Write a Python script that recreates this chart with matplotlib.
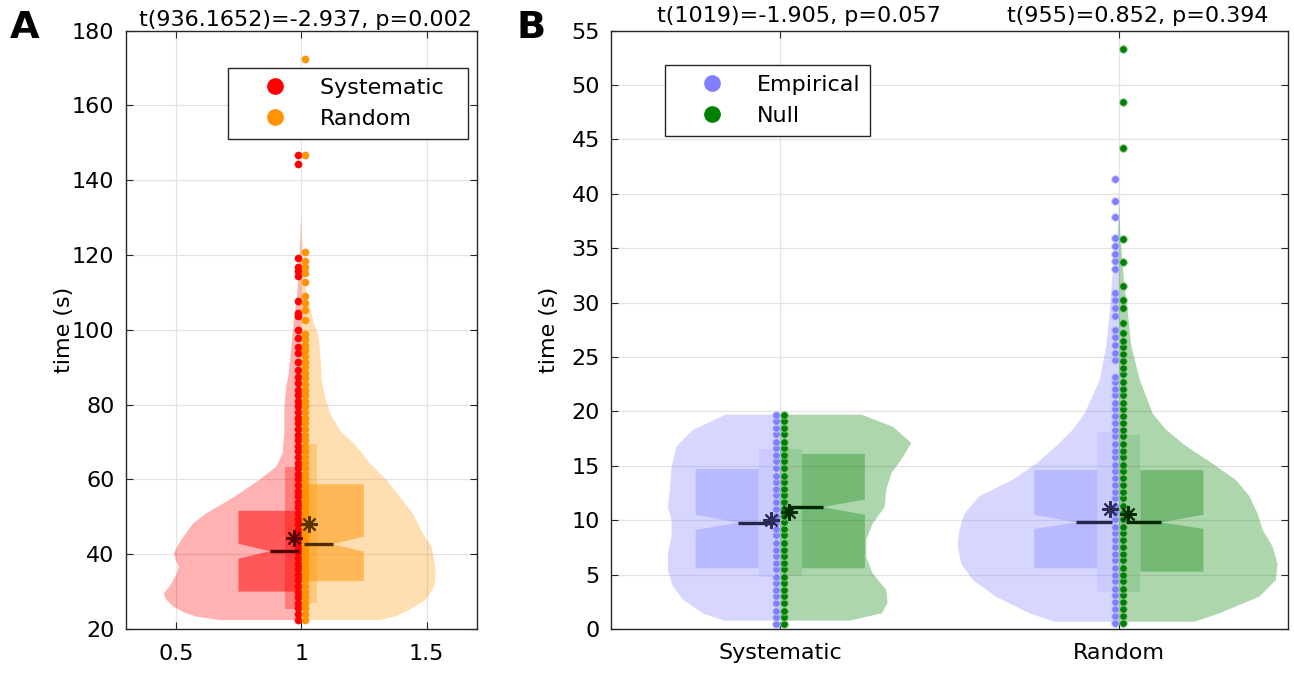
import numpy as np
import matplotlib
matplotlib.use("Agg")
import matplotlib.pyplot as plt
from matplotlib.lines import Line2D
from matplotlib.patches import Polygon

plt.rcParams['font.family'] = ['DejaVu Sans']
FS = 16

# ---------------- panel A : Systematic vs Random ----------------
sysA_dots = [22.5, 24.0, 25.5, 27.0, 28.5, 30.0, 31.5, 33.0, 34.5, 36.0, 37.5, 39.0, 40.5,
             42.0, 43.5, 45.0, 46.5, 48.0, 49.5, 51.0, 52.5, 54.0, 55.5, 57.0, 58.5, 60.0,
             61.5, 63.0, 64.5, 66.0, 67.5, 69.0, 70.5, 72.0, 73.5, 75.0, 76.5, 78.0, 79.5,
             81.0, 82.5, 84.0, 85.7, 87.5, 89.3, 91.5, 93.8, 95.5, 97.8, 100.0, 103.6, 104.6,
             107.6, 114.3, 115.6, 116.9, 119.2, 144.4, 146.6]
randA_dots = [22.5, 24.0, 25.5, 27.0, 28.5, 30.0, 31.5, 33.0, 34.5, 36.0, 37.5, 39.0, 40.5,
              42.0, 43.5, 45.0, 46.5, 48.0, 49.5, 51.0, 52.5, 54.0, 55.5, 57.0, 58.5, 60.0,
              61.5, 63.0, 64.5, 66.0, 67.5, 69.0, 70.5, 72.0, 73.5, 75.0, 76.5, 78.0, 79.5,
              81.0, 82.5, 84.0, 85.5, 87.0, 88.5, 90.0, 91.5, 93.0, 94.5, 96.0, 97.5, 99.0,
              102.7, 105.4, 107.1, 108.9, 112.9, 115.2, 116.9, 118.3, 120.7, 146.6, 172.5]

# violin outline: y level and half width (x units)
sysA_vy = [22.4, 23.3, 24.5, 26.0, 28.0, 29.5, 31.0, 33.0, 35.0, 36.7, 38.5, 40.3, 42.5, 44.7,
           46.5, 48.3, 51.0, 53.6, 56.3, 59.9, 63.4, 67.0, 73.2, 79.5, 84.8, 88.0, 95.0, 102.0,
           110.0, 120.0, 130.0]
sysA_vw = [0.325, 0.417, 0.47, 0.51, 0.54, 0.548, 0.53, 0.51, 0.495, 0.489, 0.5, 0.508, 0.49,
           0.469, 0.45, 0.43, 0.377, 0.31, 0.245, 0.166, 0.1, 0.074, 0.067, 0.067, 0.06, 0.05,
           0.04, 0.03, 0.015, 0.006, 0.0]
randA_vy = [22.4, 23.5, 25.1, 27.8, 31.3, 34.9, 38.5, 42.0, 45.6, 51.0, 55.4, 59.9, 64.3, 68.8,
            73.2, 77.7, 82.2, 86.6, 92.0, 98.0, 102.0, 107.0, 112.0, 120.0, 130.0]
randA_vw = [0.313, 0.38, 0.43, 0.497, 0.53, 0.537, 0.53, 0.52, 0.485, 0.445, 0.393, 0.34, 0.274,
            0.221, 0.154, 0.115, 0.095, 0.082, 0.078, 0.07, 0.05, 0.03, 0.015, 0.006, 0.0]

# q1, median, q3 / notch low, high / thin box low, high / mean
sysA_q = [30.0, 40.8, 51.6]
sysA_notch = [38.8, 42.8]
sysA_rng = [25.4, 63.2]
sysA_mean = 44.4
randA_q = [32.8, 42.7, 58.7]
randA_notch = [40.7, 44.7]
randA_rng = [26.9, 69.5]
randA_mean = 48.1

titleA = 't(936.1652)=-2.937, p=0.002'

# ---------------- panel B : Empirical vs Null ----------------
empS_dots = [0.5, 1.1, 1.7, 2.4, 3.0, 3.6, 4.2, 4.8, 5.5, 6.1, 6.7, 7.3, 7.9, 8.6, 9.2, 9.8,
             10.4, 11.0, 11.7, 12.3, 12.9, 13.5, 14.1, 14.8, 15.4, 16.0, 16.6, 17.2, 17.9,
             18.5, 19.1, 19.7]
nulS_dots = [0.5, 1.1, 1.7, 2.4, 3.0, 3.6, 4.2, 4.8, 5.5, 6.1, 6.7, 7.3, 7.9, 8.6, 9.2, 9.8,
             10.4, 11.0, 11.7, 12.3, 12.9, 13.5, 14.1, 14.8, 15.4, 16.0, 16.6, 17.2, 17.9,
             18.5, 19.1, 19.7]
empR_dots = [0.6, 1.2, 1.8, 2.5, 3.1, 3.7, 4.4, 5.0, 5.6, 6.3, 6.9, 7.5, 8.2, 8.8, 9.4, 10.1,
             10.7, 11.3, 12.0, 12.6, 13.2, 13.9, 14.5, 15.1, 15.8, 16.4, 17.0, 17.7, 18.3,
             18.9, 19.6, 20.2, 20.8, 21.5, 22.1, 22.7, 23.2, 24.7, 25.4, 26.1, 26.8, 27.5,
             28.8, 29.5, 30.2, 30.9, 33.1, 33.8, 34.5, 35.2, 35.9, 37.9, 39.3, 41.4]
nulR_dots = [0.6, 1.2, 1.8, 2.5, 3.1, 3.7, 4.4, 5.0, 5.6, 6.3, 6.9, 7.5, 8.2, 8.8, 9.4, 10.1,
             10.7, 11.3, 12.0, 12.6, 13.2, 13.9, 14.5, 15.1, 15.8, 16.4, 17.0, 17.7, 18.3,
             18.9, 19.6, 20.2, 20.8, 21.5, 22.1, 22.7, 23.4, 24.0, 24.6, 25.3, 25.9, 26.5,
             27.2, 28.1, 29.5, 30.2, 31.5, 33.7, 35.8, 44.2, 48.4, 53.3]

empS_vy = [0.77, 1.44, 2.7, 3.9, 5.4, 7.0, 8.5, 10.0, 11.2, 12.8, 14.9, 16.8, 18.3, 19.7]
empS_vw = [0.164, 0.229, 0.287, 0.317, 0.332, 0.332, 0.321, 0.321, 0.332, 0.326, 0.321,
           0.306, 0.258, 0.162]
nulS_vy = [0.77, 1.44, 2.4, 3.6, 5.1, 6.6, 8.2, 9.7, 11.2, 12.8, 14.3, 15.8, 17.1, 18.6, 19.7]
nulS_vw = [0.205, 0.3, 0.317, 0.313, 0.273, 0.254, 0.254, 0.273, 0.308, 0.313, 0.328, 0.362,
           0.387, 0.332, 0.24]
empR_vy = [0.67, 1.44, 2.97, 4.5, 6.0, 7.6, 9.1, 10.6, 12.2, 13.7, 15.2, 16.8, 18.3, 19.8,
           22.9, 26.0, 29.0, 32.1, 35.0, 38.0]
empR_vw = [0.19, 0.264, 0.363, 0.431, 0.465, 0.476, 0.471, 0.456, 0.412, 0.314, 0.244, 0.185,
           0.136, 0.101, 0.056, 0.037, 0.027, 0.02, 0.008, 0.0]
nulR_vy = [0.67, 1.44, 2.97, 4.5, 6.0, 7.6, 9.1, 10.6, 12.2, 13.7, 15.2, 16.8, 18.3, 19.8,
           22.9, 26.0, 29.0, 32.1, 36.0, 40.0]
nulR_vw = [0.224, 0.297, 0.415, 0.464, 0.469, 0.454, 0.425, 0.41, 0.386, 0.346, 0.277, 0.199,
           0.14, 0.1, 0.062, 0.037, 0.027, 0.015, 0.005, 0.0]

empS_q = [5.58, 9.78, 14.7]
empS_notch = [9.1, 10.5]
empS_rng = [4.8, 16.5]
empS_mean = 10.0
nulS_q = [5.58, 11.2, 16.1]
nulS_notch = [10.5, 11.9]
nulS_rng = [4.9, 16.5]
nulS_mean = 10.8
empR_q = [5.58, 9.8, 14.6]
empR_notch = [9.2, 10.5]
empR_rng = [3.4, 18.1]
empR_mean = 11.0
nulR_q = [5.27, 9.8, 14.6]
nulR_notch = [9.2, 10.5]
nulR_rng = [3.4, 17.8]
nulR_mean = 10.55

conditions = ['Systematic', 'Random']
titlesB = ['t(1019)=-1.905, p=0.057', 't(955)=0.852, p=0.394']

RED = (1.0, 0.0, 0.0)
ORANGE = (1.0, 0.58, 0.0)
BLUE = (0.5, 0.5, 1.0)
GREEN = (0.0, 0.5, 0.0)

styleA = dict(va=0.3, nw=0.063, na=0.3, bi=0.0, bo=0.25, tip=0.125, ba=0.5,
              dx=0.014, ms=5.2, m0=0.01, mx=0.03, edge=None)
styleB = dict(va=0.32, nw=0.064, na=0.12, bi=0.064, bo=0.25, tip=0.125, ba=0.33,
              dx=0.012, ms=5.4, m0=0.02, mx=0.027, edge=0.55)


def half(ax, pos, side, dots, vy, vw, q, notch, rng, mean, col, st):
    vy = np.asarray(vy)
    vw = np.asarray(vw)
    ax.fill_betweenx(vy, pos, pos + side * vw, facecolor=col, alpha=st['va'], lw=0, zorder=1)
    x1 = pos + side * st['nw']
    ax.fill_between([min(pos, x1), max(pos, x1)], rng[0], rng[1], facecolor=col,
                    alpha=st['na'], lw=0, zorder=2)
    xi = pos + side * st['bi']
    xo = pos + side * st['bo']
    xt = pos + side * st['tip']
    q1, med, q3 = q
    verts = [(xi, q1), (xo, q1), (xo, notch[0]), (xt, med), (xo, notch[1]), (xo, q3), (xi, q3)]
    ax.add_patch(Polygon(verts, closed=True, facecolor=col, alpha=st['ba'], lw=0, zorder=3))
    if st['edge'] is None:
        ec, ew = col, 0.3
    else:
        ec = tuple(c + (1 - c) * st['edge'] for c in col)
        ew = 0.6
    ax.plot(np.full(len(dots), pos + side * st['dx']), dots, 'o', ms=st['ms'], mfc=col,
            mec=ec, mew=ew, zorder=4, clip_on=False)
    dark = tuple(c * 0.3 for c in col)
    ax.plot([pos + side * st['m0'], xt], [med, med], color=dark, lw=2.4,
            solid_capstyle='butt', zorder=5)
    ax.plot([pos + side * st['mx']], [mean], marker=(8, 2, 0), ms=12, mew=1.5,
            color=tuple(c * 0.35 for c in col), ls='none', zorder=6)


def style_axes(ax):
    ax.set_axisbelow(True)
    ax.grid(True, color='#e3e3e3', lw=0.9)
    ax.tick_params(direction='in', length=5, width=0.8, top=True, right=True,
                   labelsize=FS, color='#262626')
    ax.tick_params(axis='y', pad=8)
    for s in ax.spines.values():
        s.set_color('#262626')
        s.set_linewidth(1.0)


def legend(ax, handles_cols, labels, anchor):
    hs = [Line2D([], [], marker='o', ls='none', ms=11, mfc=c, mec=c) for c in handles_cols]
    leg = ax.legend(hs, labels, loc='upper left', bbox_to_anchor=anchor, borderaxespad=0,
                    fontsize=FS, frameon=True, fancybox=False, framealpha=1,
                    edgecolor='#262626', borderpad=0.45, handlelength=3.35, handletextpad=0.33,
                    labelspacing=0.52)
    leg.get_frame().set_linewidth(1.0)


fig = plt.figure(figsize=(12.94, 6.75), dpi=100)
axA = fig.add_axes([0.0971, 0.0681, 0.2713, 0.8867])
axB = fig.add_axes([0.4722, 0.0681, 0.5232, 0.8867])

# panel A
half(axA, 1, -1, sysA_dots, sysA_vy, sysA_vw, sysA_q, sysA_notch, sysA_rng, sysA_mean, RED, styleA)
half(axA, 1, 1, randA_dots, randA_vy, randA_vw, randA_q, randA_notch, randA_rng, randA_mean, ORANGE, styleA)
axA.set_xlim(0.3, 1.7)
axA.set_ylim(20, 180)
axA.set_xticks([0.5, 1, 1.5])
axA.set_xticklabels(['0.5', '1', '1.5'])
axA.set_yticks(np.arange(20, 181, 20))
style_axes(axA)
axA.tick_params(axis='x', pad=11)
axA.set_ylabel('time (s)', fontsize=FS)
axA.yaxis.set_label_coords(-0.147, 0.5)
axA.set_title(titleA, fontsize=FS, pad=3, x=0.512)
legend(axA, [RED, ORANGE], ['Systematic  ', 'Random'], (0.291, 0.938))

# panel B
half(axB, 1, -1, empS_dots, empS_vy, empS_vw, empS_q, empS_notch, empS_rng, empS_mean, BLUE, styleB)
half(axB, 1, 1, nulS_dots, nulS_vy, nulS_vw, nulS_q, nulS_notch, nulS_rng, nulS_mean, GREEN, styleB)
half(axB, 2, -1, empR_dots, empR_vy, empR_vw, empR_q, empR_notch, empR_rng, empR_mean, BLUE, styleB)
half(axB, 2, 1, nulR_dots, nulR_vy, nulR_vw, nulR_q, nulR_notch, nulR_rng, nulR_mean, GREEN, styleB)
axB.set_xlim(0.5, 2.5)
axB.set_ylim(0, 55)
axB.set_xticks([1, 2])
axB.set_xticklabels(conditions)
axB.set_yticks(np.arange(0, 56, 5))
style_axes(axB)
axB.tick_params(axis='x', pad=10)
axB.set_ylabel('time (s)', fontsize=FS)
axB.yaxis.set_label_coords(-0.077, 0.5)
for i, t in enumerate(titlesB):
    axB.annotate(t, xy=(i + 1, 1), xycoords=('data', 'axes fraction'), xytext=(13.5, 3),
                 textcoords='offset points', ha='center', va='bottom', fontsize=FS)
legend(axB, [BLUE, GREEN], ['Empirical', 'Null'], (0.0798, 0.943))

fig.text(0.0077, 0.9437, 'A', fontsize=27.5, fontweight='bold', va='baseline')
fig.text(0.3995, 0.9437, 'B', fontsize=27.5, fontweight='bold', va='baseline')

fig.savefig('out.png', dpi=100)
